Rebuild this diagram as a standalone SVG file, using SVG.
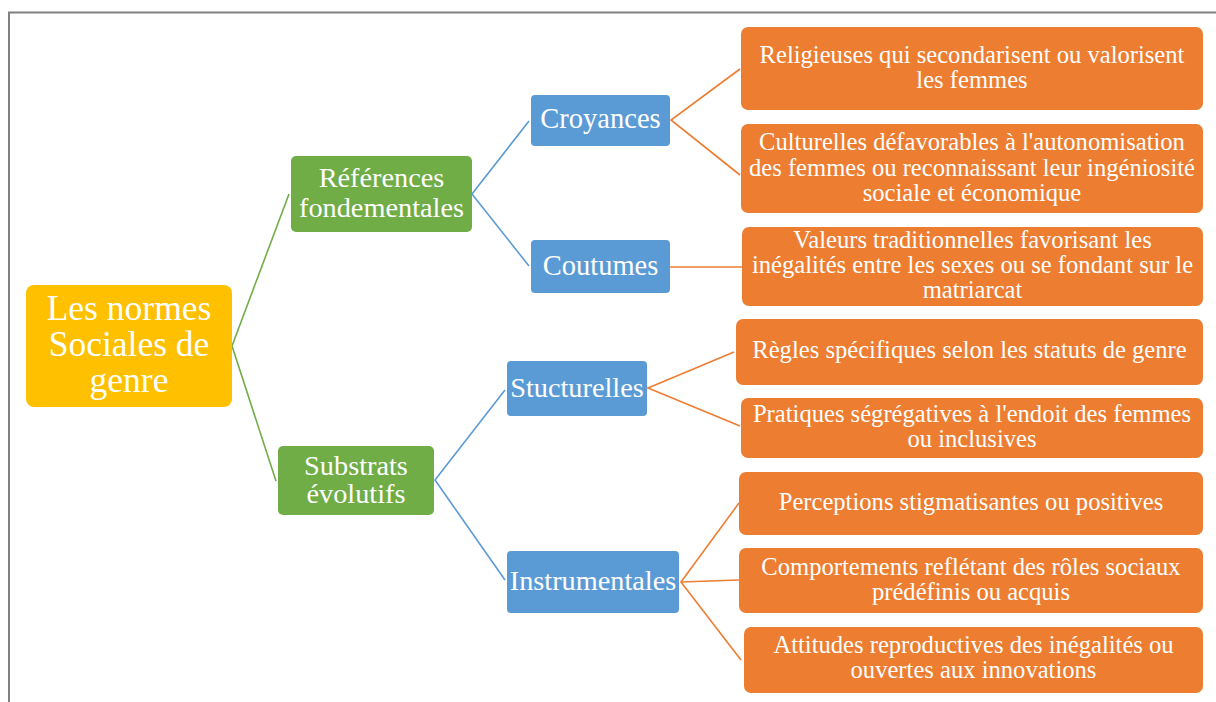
<svg xmlns="http://www.w3.org/2000/svg" width="1216" height="702" viewBox="0 0 1216 702">
<style>
text{font-family:"Liberation Serif","Times New Roman",serif;fill:#fff;text-anchor:middle}
.root{fill:#FFC000}
.g{fill:#70AD47}
.b{fill:#5B9BD5}
.o{fill:#ED7D31}
.t1{font-size:35.5px}
.t2{font-size:28.3px}
.t3{font-size:28.5px}
.t4{font-size:24.6px}
.cg{stroke:#70AD47;stroke-width:1.6;fill:none}
.cb{stroke:#5B9BD5;stroke-width:1.6;fill:none}
.co{stroke:#ED7D31;stroke-width:1.6;fill:none}
</style>
<rect width="1216" height="702" fill="#fff"/>
<path d="M9 702 V12.5 H1216" stroke="#808080" stroke-width="2" fill="none"/>
<g id="connectors">
<polyline class="cg" points="289,194 232,346 276,481"/>
<polyline class="cb" points="529,121 472,194 529,266"/>
<polyline class="cb" points="505,390 435,480 505,580"/>
<polyline class="co" points="740,69 671,120 740,175"/>
<line class="co" x1="670" y1="267" x2="742" y2="267"/>
<polyline class="co" points="734,352 648,388 740,426"/>
<polyline class="co" points="739,503 681,582 741,660"/>
<line class="co" x1="681" y1="582" x2="739" y2="580"/>
</g>
<g id="n-root"><rect class="root" x="26" y="285" width="206" height="122" rx="8"/><text class="t1" x="129" y="320">Les normes</text><text class="t1" x="129" y="356">Sociales de</text><text class="t1" x="129" y="392">genre</text></g>
<g id="n-ref"><rect class="g" x="291" y="156" width="181" height="76" rx="5"/><text class="t2" x="381.5" y="187">Références</text><text class="t2" x="381.5" y="217">fondementales</text></g>
<g id="n-sub"><rect class="g" x="278" y="446" width="156" height="69" rx="5"/><text class="t2" x="356" y="475">Substrats</text><text class="t2" x="356" y="503">évolutifs</text></g>
<g id="n-croy"><rect class="b" x="531" y="95" width="139" height="51" rx="4"/><text class="t3" x="600.5" y="128">Croyances</text></g>
<g id="n-cout"><rect class="b" x="531" y="240" width="139" height="53" rx="4"/><text class="t3" x="600.5" y="275">Coutumes</text></g>
<g id="n-stuc"><rect class="b" x="507" y="361" width="140" height="55" rx="4"/><text class="t2" x="577" y="397">Stucturelles</text></g>
<g id="n-inst"><rect class="b" x="507" y="551" width="172" height="62" rx="4"/><text class="t2" x="593" y="590">Instrumentales</text></g>
<g id="n-rel"><rect class="o" x="741" y="27" width="462" height="83" rx="7"/><text class="t4" x="972" y="63">Religieuses qui secondarisent ou valorisent</text><text class="t4" x="972" y="88">les femmes</text></g>
<g id="n-cult"><rect class="o" x="741" y="124" width="462" height="89" rx="7"/><text class="t4" x="972" y="150">Culturelles défavorables à l'autonomisation</text><text class="t4" x="972" y="175.5">des femmes ou reconnaissant leur ingéniosité</text><text class="t4" x="972" y="201">sociale et économique</text></g>
<g id="n-val"><rect class="o" x="742" y="227" width="461" height="79" rx="7"/><text class="t4" x="972.5" y="248">Valeurs traditionnelles favorisant les</text><text class="t4" x="972.5" y="273">inégalités entre les sexes ou se fondant sur le</text><text class="t4" x="972.5" y="298">matriarcat</text></g>
<g id="n-regl"><rect class="o" x="736" y="319" width="467" height="66" rx="7"/><text class="t4" x="969.5" y="358">Règles spécifiques selon les statuts de genre</text></g>
<g id="n-prat"><rect class="o" x="741" y="398" width="462" height="60" rx="7"/><text class="t4" x="972" y="422">Pratiques ségrégatives à l'endoit des femmes</text><text class="t4" x="972" y="447">ou inclusives</text></g>
<g id="n-perc"><rect class="o" x="739" y="472" width="464" height="63" rx="7"/><text class="t4" x="971" y="510">Perceptions stigmatisantes ou positives</text></g>
<g id="n-comp"><rect class="o" x="739" y="548" width="464" height="65" rx="7"/><text class="t4" x="971" y="575">Comportements reflétant des rôles sociaux</text><text class="t4" x="971" y="600">prédéfinis ou acquis</text></g>
<g id="n-att"><rect class="o" x="744" y="627" width="459" height="66" rx="7"/><text class="t4" x="973.5" y="653">Attitudes reproductives des inégalités ou</text><text class="t4" x="973.5" y="678">ouvertes aux innovations</text></g>
</svg>
